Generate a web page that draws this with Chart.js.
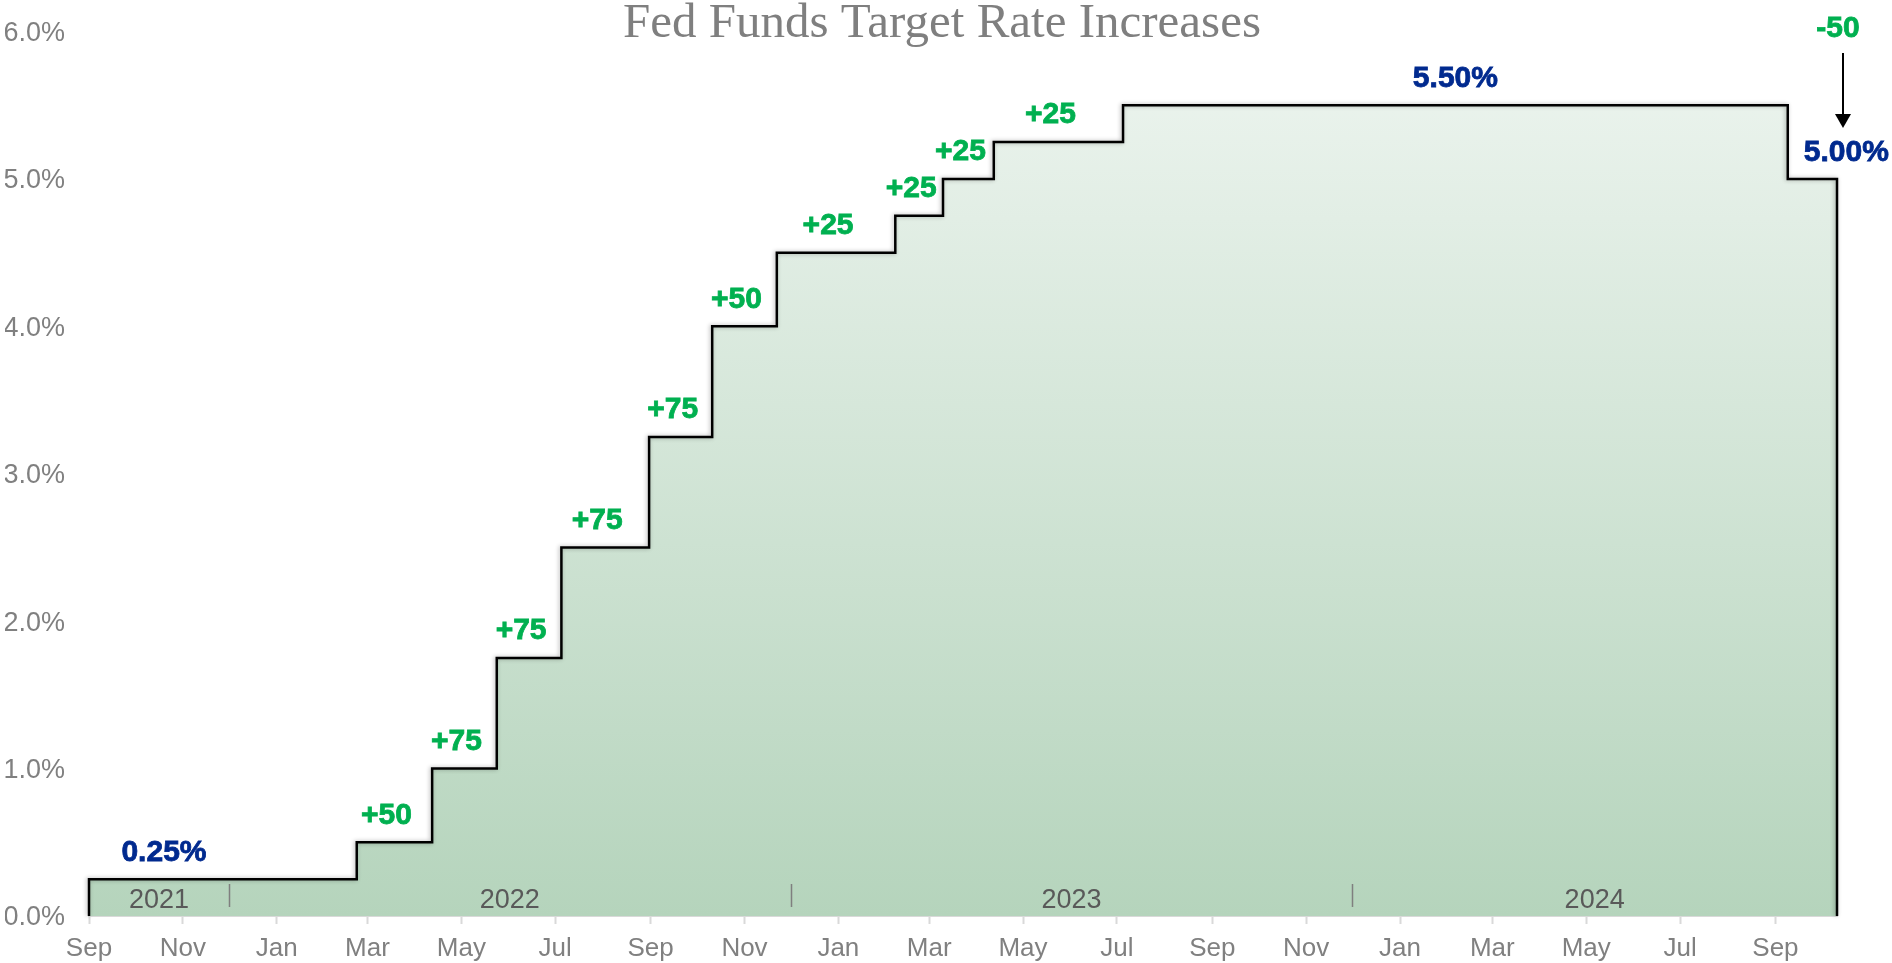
<!DOCTYPE html>
<html>
<head>
<meta charset="utf-8">
<title>Fed Funds Target Rate Increases</title>
<script src="https://cdn.jsdelivr.net/npm/chart.js@4.4.1/dist/chart.umd.min.js"></script>
<style>
  html, body { margin: 0; padding: 0; background: #fff; }
  #wrap { width: 1892px; height: 963px; position: relative; }
</style>
</head>
<body>
<div id="wrap"><canvas id="rateChart"></canvas></div>
<script>
// Dates where the target rate changes
const changeDates = ["2021-09-01", "2022-02-22", "2022-04-12", "2022-05-24", "2022-07-05", "2022-08-31", "2022-10-11",
  "2022-11-22", "2023-02-07", "2023-03-10", "2023-04-12", "2023-07-05", "2024-09-09"];
// Upper bound of the target rate (%) from each date on
const rateValues = [0.25, 0.5, 1.0, 1.75, 2.5, 3.25, 4.0, 4.5, 4.75, 5.0, 5.25, 5.5, 5.0];
// Text shown above each step
const stepLabels = ["0.25%", "+50", "+75", "+75", "+75", "+75", "+50", "+25", "+25", "+25", "+25", "5.50%", "5.00%"];
const cutLabel = "-50";
const startDate = "2021-09-01";
const endDate = "2024-10-11";

// Axis labels
const monthTicks = ["Sep", "Nov", "Jan", "Mar", "May", "Jul", "Sep", "Nov", "Jan", "Mar", "May", "Jul",
  "Sep", "Nov", "Jan", "Mar", "May", "Jul", "Sep"];
const yTicks = [0, 1, 2, 3, 4, 5, 6];
const yearLabels = ["2021", "2022", "2023", "2024"];
const yearBreaks = ["2021-12-01", "2022-12-01", "2023-12-01"];

const GREEN = "#00b050";
const BLUE = "#002a8f";
const FONT = "'Liberation Sans', Arial, sans-serif";

// Days since the start date
function dayOf(dateStr) {
  return (Date.parse(dateStr) - Date.parse(startDate)) / 86400000;
}

const endDay = dayOf(endDate);
const stepDays = changeDates.map(dayOf);
// first of every second month, starting at the start date
const tickDays = monthTicks.map((m, i) => {
  const d = new Date(startDate + "T00:00:00Z");
  return (Date.UTC(d.getUTCFullYear(), d.getUTCMonth() + 2 * i, 1) - d.getTime()) / 86400000;
});

// Line points: rise from 0 at the start, drop back to 0 at the end
const points = [{ x: 0, y: 0 }];
stepDays.forEach((d, i) => points.push({ x: d, y: rateValues[i] }));
points.push({ x: endDay, y: rateValues[rateValues.length - 1] });
points.push({ x: endDay, y: 0 });

// Fill gradient over the chart area
function areaGradient(context) {
  const { ctx, chartArea } = context.chart;
  if (!chartArea) return "rgba(182,213,189,1)";
  const g = ctx.createLinearGradient(0, chartArea.top, 0, chartArea.bottom);
  g.addColorStop(0, "rgb(238,245,240)");
  g.addColorStop(1, "rgb(181,212,188)");
  return g;
}

// Bold label text, slightly thickened
function boldText(ctx, text, x, y, color) {
  ctx.fillStyle = color;
  ctx.strokeStyle = color;
  ctx.lineWidth = 0.8;
  ctx.fillText(text, x, y);
  ctx.strokeText(text, x, y);
}

// Soft shadow under the step line
const lineShadow = {
  id: "lineShadow",
  beforeDatasetDraw(chart) {
    const ctx = chart.ctx;
    ctx.save();
    ctx.shadowColor = "rgba(0,0,0,0.3)";
    ctx.shadowBlur = 4;
    ctx.shadowOffsetX = -1;
    ctx.shadowOffsetY = 0;
  },
  afterDatasetDraw(chart) {
    chart.ctx.restore();
  }
};

// Title, step labels, year band and the cut arrow
const annotations = {
  id: "annotations",
  afterDatasetsDraw(chart) {
    const { ctx, scales } = chart;
    const xs = scales.x, ys = scales.y;
    ctx.save();

    // title
    ctx.fillStyle = "#7f7f7f";
    ctx.font = "49px 'Liberation Serif', 'Times New Roman', serif";
    ctx.textAlign = "center";
    ctx.textBaseline = "middle";
    ctx.fillText("Fed Funds Target Rate Increases", chart.width / 2 - 4, 24);

    // year labels and separators
    const zeroY = ys.getPixelForValue(0);
    const bounds = [0, ...yearBreaks.map(dayOf), endDay].map(d => xs.getPixelForValue(d));
    ctx.font = "27px " + FONT;
    ctx.fillStyle = "#595959";
    yearLabels.forEach((lab, i) => {
      ctx.fillText(lab, (bounds[i] + bounds[i + 1]) / 2, zeroY - 15);
    });
    ctx.strokeStyle = "#7f7f7f";
    ctx.lineWidth = 1.5;
    yearBreaks.forEach(d => {
      const x = Math.round(xs.getPixelForValue(dayOf(d))) + 0.5;
      ctx.beginPath();
      ctx.moveTo(x, zeroY - 32);
      ctx.lineTo(x, zeroY - 9);
      ctx.stroke();
    });

    // step labels
    ctx.font = "bold 30px " + FONT;
    stepLabels.forEach((lab, i) => {
      const x0 = xs.getPixelForValue(stepDays[i]);
      const x1 = xs.getPixelForValue(i + 1 < stepDays.length ? stepDays[i + 1] : endDay);
      const y = ys.getPixelForValue(rateValues[i]) - 26;
      const color = lab.startsWith("+") || lab.startsWith("-") ? GREEN : BLUE;
      if (i === 0) {
        ctx.textAlign = "center";
        boldText(ctx, lab, x0 + (x1 - x0) * 0.28, y, color);
      } else if (i === stepLabels.length - 1) {
        ctx.textAlign = "left";
        boldText(ctx, lab, x0 + 16, y, color);
      } else if (lab.startsWith("+")) {
        ctx.textAlign = "center";
        boldText(ctx, lab, (x0 + x1) / 2 - 8, y - 1, color);
      } else {
        ctx.textAlign = "center";
        boldText(ctx, lab, (x0 + x1) / 2, y, color);
      }
    });

    // cut label with arrow
    const yLast = ys.getPixelForValue(rateValues[rateValues.length - 1]);
    const xEnd = xs.getPixelForValue(endDay);
    ctx.textAlign = "center";
    boldText(ctx, cutLabel, xEnd + 1, yLast - 150, GREEN);
    const ax = xEnd + 6;
    ctx.strokeStyle = "#000";
    ctx.lineWidth = 2;
    ctx.beginPath();
    ctx.moveTo(ax, yLast - 126);
    ctx.lineTo(ax, yLast - 62);
    ctx.stroke();
    ctx.fillStyle = "#000";
    ctx.beginPath();
    ctx.moveTo(ax - 8, yLast - 65);
    ctx.lineTo(ax + 8, yLast - 65);
    ctx.lineTo(ax, yLast - 51);
    ctx.closePath();
    ctx.fill();

    ctx.restore();
  }
};

const rateChart = new Chart(document.getElementById("rateChart"), {
  type: "line",
  data: {
    datasets: [{
      data: points,
      stepped: "before",
      borderColor: "#000",
      borderWidth: 2.5,
      backgroundColor: areaGradient,
      fill: "origin",
      pointRadius: 0,
      clip: false
    }]
  },
  options: {
    responsive: true,
    maintainAspectRatio: false,
    animation: false,
    layout: { padding: { top: 31.5, right: 55, left: 5, bottom: 0 } },
    plugins: {
      legend: { display: false },
      tooltip: { enabled: false },
      title: { display: false }
    },
    scales: {
      x: {
        type: "linear",
        min: 0,
        max: endDay,
        afterBuildTicks: (scale) => { scale.ticks = tickDays.map(v => ({ value: v })); },
        afterFit: (scale) => { scale.height = 47; },
        ticks: {
          autoSkip: false,
          maxRotation: 0,
          padding: 9,
          color: "#808080",
          font: { family: FONT, size: 26 },
          callback: (value, index) => monthTicks[index]
        },
        grid: { drawOnChartArea: false, drawTicks: true, tickLength: 8, tickColor: "#d9d9d9", tickWidth: 2 },
        border: { display: true, color: "#d9d9d9", width: 2 }
      },
      y: {
        min: 0,
        max: 6,
        afterBuildTicks: (scale) => { scale.ticks = yTicks.map(v => ({ value: v })); },
        afterFit: (scale) => {
          scale.width = 84;
          scale.paddingTop = 16;
          scale.paddingBottom = 16;
        },
        ticks: {
          padding: 24,
          labelOffset: 2,
          color: "#808080",
          font: { family: FONT, size: 27 },
          callback: (value) => value.toFixed(1) + "%"
        },
        grid: { display: false, drawTicks: false },
        border: { display: false }
      }
    }
  },
  plugins: [lineShadow, annotations]
});
</script>
</body>
</html>
